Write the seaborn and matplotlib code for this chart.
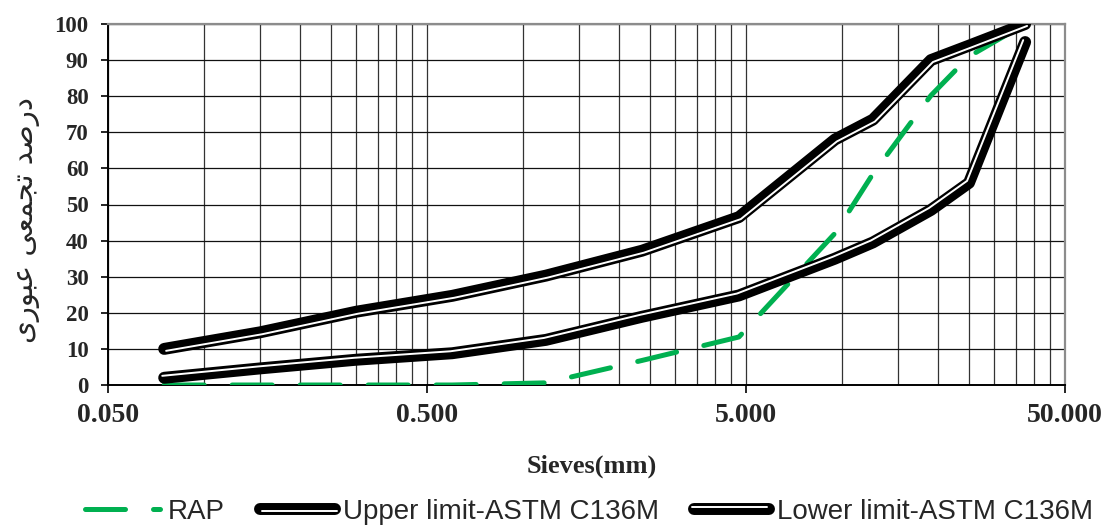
import pandas as pd
import matplotlib
matplotlib.use("Agg")
import matplotlib.pyplot as plt
import matplotlib.patheffects as pe
from matplotlib.ticker import FixedLocator, FixedFormatter, NullFormatter
import seaborn as sns

# =============================
# DATA
# =============================
sieves = [0.075, 0.15, 0.3, 0.6, 1.18, 2.36, 4.75, 9.5, 12.5, 19, 25, 37.5]
rap = [0, 0, 0, 0, 0.6, 6.8, 13.3, 42, 58.5, 80.2, 91, 100]
upper = [10, 14.6, 20.3, 24.7, 30.3, 37.2, 46.5, 68, 73.5, 90, 94, 100]
lower = [2, 4.6, 7, 8.8, 12.5, 18.9, 24.8, 35, 39.5, 48.5, 56, 95]

x_ticks = [0.05, 0.5, 5, 50]
x_labels = ["0.050", "0.500", "5.000", "50.000"]
y_ticks = list(range(0, 101, 10))

series_names = ["RAP", "Upper limit-ASTM C136M", "Lower limit-ASTM C136M"]

# Persian y label, shaped with presentation forms and put in visual order
ylabel_forms = ("\uFEA9\uFEAD\uFEBB\uFEAA \uFE97\uFEA0\uFEE4\uFECC\uFBFD "
                "\uFECB\uFE92\uFEEE\uFEAD\uFBFC")
ylabel = ylabel_forms[::-1]

df = pd.DataFrame({"sieve": sieves, "RAP": rap, "upper": upper, "lower": lower})

# =============================
# STYLE
# =============================
sns.set_theme(style="white")
plt.rcParams["font.family"] = ["Liberation Serif", "DejaVu Sans"]

fig = plt.figure(figsize=(11.07, 5.29), dpi=100)
ax = fig.add_axes([108 / 1107, 1 - 385 / 529, 957 / 1107, 361 / 529])

# =============================
# LINES
# =============================
green = "#00B050"
sns.lineplot(data=df, x="sieve", y="RAP", ax=ax, color=green, lw=3.6,
             linestyle=(0, (8, 5.6)), dash_capstyle="round",
             solid_capstyle="round", label=series_names[0], zorder=3)

# thick-thin compound lines: black stroke + offset white stroke
black_lw = 8.6
sns.lineplot(data=df, x="sieve", y="upper", ax=ax, color="black", lw=black_lw,
             solid_capstyle="round", solid_joinstyle="round",
             label=series_names[1], zorder=4,
             path_effects=[pe.Normal(),
                           pe.Stroke(offset=(1.4, -1.4), linewidth=1.4,
                                     foreground="white")])
sns.lineplot(data=df, x="sieve", y="lower", ax=ax, color="black", lw=black_lw,
             solid_capstyle="round", solid_joinstyle="round",
             label=series_names[2], zorder=4,
             path_effects=[pe.Normal(),
                           pe.Stroke(offset=(-1.4, 1.4), linewidth=1.4,
                                     foreground="white")])

# =============================
# AXES
# =============================
ax.set_xscale("log")
ax.set_xlim(0.05, 50)
ax.set_ylim(0, 100)

minor_x = [0.05 * k * 10 ** n for n in range(3) for k in range(2, 10)]
ax.xaxis.set_major_locator(FixedLocator(x_ticks))
ax.xaxis.set_major_formatter(FixedFormatter(x_labels))
ax.xaxis.set_minor_locator(FixedLocator(minor_x))
ax.xaxis.set_minor_formatter(NullFormatter())
ax.set_yticks(y_ticks)
ax.set_yticklabels([str(v) for v in y_ticks])

ax.grid(True, which="both", axis="x", color="#333333", lw=0.9)
ax.grid(True, which="major", axis="y", color="#111111", lw=0.9)
ax.set_axisbelow(True)

ax.tick_params(axis="x", which="major", direction="out", length=6, width=1.2,
               color="black", pad=7, labelsize=20, bottom=True)
ax.tick_params(axis="x", which="minor", length=0)
ax.tick_params(axis="y", direction="out", length=5, width=1.2, color="black",
               pad=9, labelsize=16.5, left=True)
for lab in ax.get_xticklabels() + ax.get_yticklabels():
    lab.set_fontweight("bold")
    lab.set_family("Liberation Serif")

for side in ["left", "bottom"]:
    ax.spines[side].set_color("black")
    ax.spines[side].set_linewidth(1.4)
for side in ["top", "right"]:
    ax.spines[side].set_color("#8c8c8c")
    ax.spines[side].set_linewidth(1.6)

ax.set_xlabel("Sieves(mm)", fontsize=19, fontweight="bold",
              family="Liberation Serif")
ax.xaxis.label.set_va("center")
ax.xaxis.set_label_coords(0.506, -0.224)

ax.set_ylabel(ylabel, fontsize=21, family=["DejaVu Sans"])
ax.yaxis.label.set_va("center")
ax.yaxis.set_label_coords(-0.0857, 0.457)

# =============================
# LEGEND
# =============================
handles, labels = ax.get_legend_handles_labels()
if ax.get_legend() is not None:
    ax.get_legend().remove()
fig.legend(handles, labels, loc="center", bbox_to_anchor=(0.532, 0.032),
           ncol=3, frameon=False, handlelength=2.7, handletextpad=0.3,
           columnspacing=1.25,
           prop={"family": "Liberation Sans", "size": 20})

fig.savefig("out.png", dpi=100)
